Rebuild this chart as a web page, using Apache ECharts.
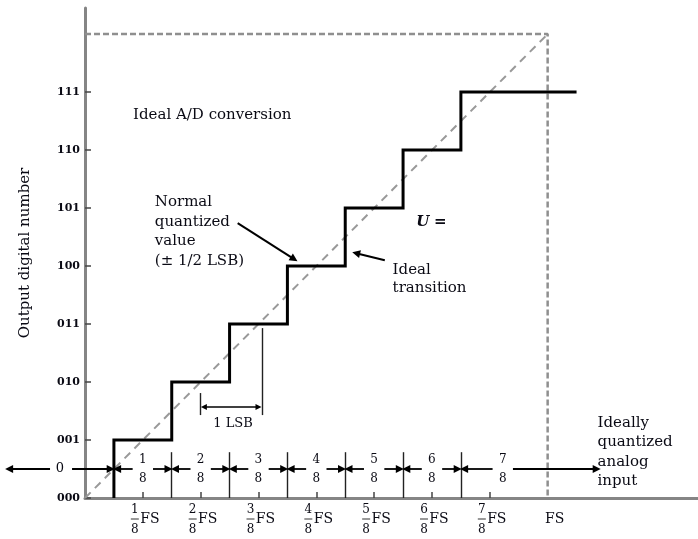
<!DOCTYPE html>
<html><head><meta charset="utf-8">
<script src="https://cdn.jsdelivr.net/npm/echarts@6/dist/echarts.min.js"></script>
<style>html,body{margin:0;padding:0;background:#fff}#c{width:698px;height:539px}</style>
</head><body><div id="c"></div>
<script>
// ---- data ----
const codeLabels = ['000','001','010','011','100','101','110','111'];
const codeValues = [0,1,2,3,4,5,6,7];
const transitionInputs = [0.0625,0.1875,0.3125,0.4375,0.5625,0.6875,0.8125]; // FS units
const stepOutputs = [1,2,3,4,5,6,7];
const stepLineEnd = 1.0625;
const fsTickValues = [0.125,0.25,0.375,0.5,0.625,0.75,0.875];
const fsLabelValues = [0.125,0.25,0.375,0.5,0.625,0.75,0.875,1];
const fsNumerators = ['1','2','3','4','5','6','7',''];
const fsDenominator = '8';
const fullScale = 1;
const fullScaleCode = 8;
const rowNumerators = ['1','2','3','4','5','6','7'];
const rowCenters = [0.125,0.25,0.375,0.5,0.625,0.75,0.903];
const rowLastBound = 1.106;
const lsbRange = [0.249, 0.383];

// ---- layout ----
const FONT = 'DejaVu Serif';
const TXT = '#0a0a14';
const ROW_Y = 0.5;
const SEP_TOP = 0.79;
const GAP = 0.022, HEAD = 0.007;

const stepPts = [[transitionInputs[0], 0]];
transitionInputs.forEach((t, i) => {
  stepPts.push([t, stepOutputs[i]]);
  stepPts.push([i + 1 < transitionInputs.length ? transitionInputs[i + 1] : stepLineEnd, stepOutputs[i]]);
});

const bounds = transitionInputs.concat([rowLastBound]);
const separators = transitionInputs.slice(1).map(x => ({coords: [[x, 0], [x, SEP_TOP]]}));
const rowArrows = [];
rowCenters.forEach((c, i) => {
  rowArrows.push({coords: [[c - GAP, ROW_Y], [bounds[i] + HEAD, ROW_Y]]});
  rowArrows.push({coords: [[c + GAP, ROW_Y], [bounds[i + 1] - (i + 1 < bounds.length - 1 ? HEAD : 0), ROW_Y]]});
});
rowArrows.push({coords: [[-0.0756, ROW_Y], [-0.164, ROW_Y]]});
rowArrows.push({coords: [[-0.028, ROW_Y], [transitionInputs[0] - HEAD, ROW_Y]]});

const noteArrows = [
  {coords: [[0.330, 4.74], [0.452, 4.12]]},
  {coords: [[0.648, 4.10], [0.586, 4.22]]}
];

const lsbLines = [
  {coords: [[lsbRange[0], 1.43], [lsbRange[0], 1.81]]},
  {coords: [[lsbRange[1], 1.43], [lsbRange[1], 2.93]]}
];
const lsbArrow = [{coords: [[lsbRange[0] + 0.008, 1.57], [lsbRange[1] - 0.008, 1.57]]}];

function note(x, y, text, opt) {
  return {value: [x, y], label: Object.assign({
    show: true, formatter: text, position: [0, 0], align: 'left', verticalAlign: 'middle',
    fontFamily: FONT, fontSize: 15, color: TXT, lineHeight: 19, opacity: 1
  }, opt || {})};
}
const notes = [
  note(0.104, 6.60, 'Ideal A/D conversion'),
  note(0.151, 4.595, 'Normal\nquantized\nvalue\n(± 1/2 LSB)', {lineHeight: 19.5}),
  note(0.716, 4.76, '{u|U} {e|=}', {rich: {
    u: {fontFamily: FONT, fontSize: 15, fontStyle: 'italic', fontWeight: 'bold', color: TXT},
    e: {fontFamily: FONT, fontSize: 15, fontWeight: 'bold', color: TXT}}}),
  note(0.665, 3.776, 'Ideal\ntransition', {lineHeight: 18}),
  note(0.32, 1.29, '1 LSB', {align: 'center', fontSize: 13}),
  note(1.108, 0.79, 'Ideally\nquantized\nanalog\ninput', {lineHeight: 19.5}),
  note(-0.054, ROW_Y, '0', {align: 'center', fontSize: 13})
];
const rowFractions = rowCenters.map((c, i) => note(c, ROW_Y, rowNumerators[i] + '\n' + fsDenominator,
  {align: 'center', fontSize: 12, lineHeight: 19}));

const xRich = {
  n: {fontFamily: FONT, fontSize: 12, color: TXT, width: 8, align: 'center', lineHeight: 11},
  d: {fontFamily: FONT, fontSize: 12, color: TXT, width: 8, align: 'center', lineHeight: 13},
  e: {fontFamily: FONT, fontSize: 12, width: 22, align: 'center', lineHeight: 11},
  b: {fontSize: 4, width: 8, height: 1, backgroundColor: '#333', align: 'center', lineHeight: 8},
  bn: {fontSize: 4, width: 8, height: 1, align: 'center', lineHeight: 8},
  fs: {fontFamily: FONT, fontSize: 14, color: TXT, width: 22, align: 'center', lineHeight: 8}
};

const chart = echarts.init(document.getElementById('c'));
chart.setOption({
  animation: false,
  backgroundColor: '#fff',
  grid: {left: 85, right: 0, top: 8, bottom: 41, containLabel: false, outerBoundsMode: 'none'},
  xAxis: {
    type: 'value', min: 0, max: 1.325,
    axisLine: {show: true, onZero: false, lineStyle: {color: '#858585', width: 3}},
    splitLine: {show: false},
    axisTick: {show: true, inside: true, length: 6, customValues: fsTickValues, lineStyle: {color: '#444', width: 1.5}},
    axisLabel: {
      show: true, customValues: fsLabelValues, margin: 6, padding: [0, 0, 0, 6],
      formatter: function (v) {
        const i = fsLabelValues.findIndex(t => Math.abs(t - v) < 1e-6);
        const num = fsNumerators[i];
        if (num === '') return '{n| }{e| }\n{bn| }{fs|FS}\n{d| }{e| }';
        return '{n|' + num + '}{e| }\n{b| }{fs|FS}\n{d|' + fsDenominator + '}{e| }';
      },
      rich: xRich
    }
  },
  yAxis: {
    type: 'value', min: 0, max: 8.45,
    name: 'Output digital number', nameLocation: 'middle', nameGap: 52, nameRotate: 90,
    nameTextStyle: {fontFamily: FONT, fontSize: 15, color: TXT},
    axisLine: {show: true, onZero: false, lineStyle: {color: '#858585', width: 3}},
    splitLine: {show: false},
    axisTick: {show: true, inside: true, length: 6, customValues: codeValues, lineStyle: {color: '#444', width: 1.5}},
    axisLabel: {
      show: true, customValues: codeValues, margin: 5,
      formatter: v => codeLabels[Math.round(v)],
      fontFamily: FONT, fontSize: 11, fontWeight: 'bold', color: TXT
    }
  },
  series: [
    {type: 'line', name: 'Full scale', data: [[0, fullScaleCode], [fullScale, fullScaleCode], [fullScale, 0]],
     showSymbol: false, silent: true, lineStyle: {color: '#8f8f8f', width: 2.5, type: [6, 3]}, z: 2},
    {type: 'line', name: 'Ideal line', data: [[0, 0], [fullScale, fullScaleCode]],
     showSymbol: false, silent: true, lineStyle: {color: '#999', width: 2, type: [8, 6]}, z: 2},
    {type: 'line', name: 'Quantized output', data: stepPts, showSymbol: false, silent: true,
     lineStyle: {color: '#000', width: 3, join: 'miter'}, z: 5},
    {type: 'lines', coordinateSystem: 'cartesian2d', data: separators.concat(lsbLines), symbol: 'none',
     clip: false, silent: true, lineStyle: {color: '#222', width: 1.4, opacity: 1}, z: 4},
    {type: 'lines', coordinateSystem: 'cartesian2d', data: rowArrows, symbol: ['none', 'triangle'], symbolSize: 8,
     clip: false, silent: true, lineStyle: {color: '#000', width: 1.8, opacity: 1}, z: 4},
    {type: 'lines', coordinateSystem: 'cartesian2d', data: noteArrows, symbol: ['none', 'triangle'], symbolSize: 8,
     clip: false, silent: true, lineStyle: {color: '#000', width: 2, opacity: 1}, z: 4},
    {type: 'lines', coordinateSystem: 'cartesian2d', data: lsbArrow, symbol: ['triangle', 'triangle'], symbolSize: 6,
     clip: false, silent: true, lineStyle: {color: '#000', width: 1.5, opacity: 1}, z: 4},
    {type: 'scatter', data: notes.concat(rowFractions), symbolSize: 0.1, clip: false, silent: true,
     itemStyle: {color: 'rgba(0,0,0,0)', opacity: 1}, z: 6}
  ]
});
</script></body></html>
